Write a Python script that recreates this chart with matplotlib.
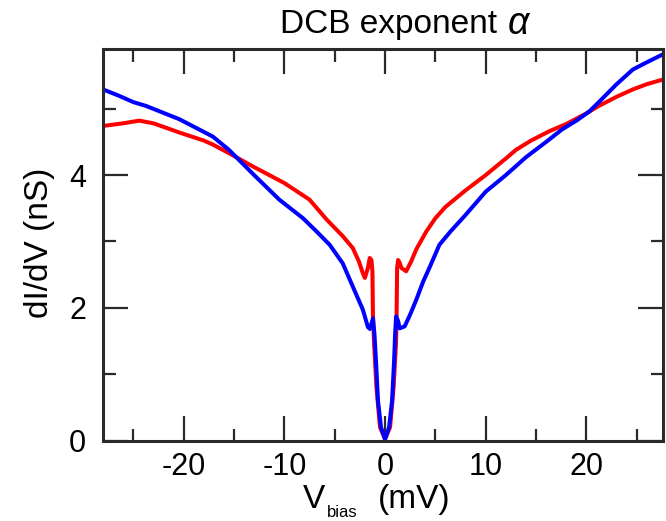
import matplotlib
matplotlib.use("Agg")
import matplotlib.pyplot as plt
from matplotlib.ticker import MultipleLocator

plt.rcParams['font.family'] = ['Liberation Sans', 'DejaVu Sans']
plt.rcParams['axes.unicode_minus'] = False

# bias voltage (mV) and differential conductance (nS)
red_v = [-28, -26, -24.4, -23, -20.4, -18, -17.1, -15.5, -13, -10, -7.5, -5.8,
         -4.2, -3.2, -2.6, -2.2, -2.0, -1.7, -1.52, -1.35, -1.25, -1.2, -1.1,
         -0.85, -0.5, 0, 0.5, 0.85, 1.1, 1.15, 1.2, 1.3, 1.45, 1.63, 2.1, 2.6,
         3.1, 4.1, 5, 6, 8, 10, 12, 13, 14.5, 16.3, 18, 20, 21.2, 23, 24.6, 26, 27.6]
red_g = [4.74, 4.78, 4.82, 4.78, 4.64, 4.52, 4.46, 4.33, 4.12, 3.88, 3.63, 3.33,
         3.08, 2.9, 2.7, 2.52, 2.45, 2.6, 2.75, 2.72, 2.55, 1.9, 1.5,
         0.8, 0.2, 0.02, 0.2, 0.8, 1.5, 1.9, 2.6, 2.72, 2.68, 2.6, 2.55, 2.7,
         2.88, 3.15, 3.35, 3.52, 3.77, 4.0, 4.25, 4.38, 4.52, 4.66, 4.77, 4.93, 5.04, 5.18, 5.29, 5.37, 5.44]

blue_v = [-28, -26.5, -25, -23.7, -20.4, -17.1, -15.5, -13, -10.5, -8.15, -6.8,
          -5.5, -4.2, -3.2, -2.2, -1.7, -1.5, -1.2, -1.05, -0.9, -0.7, -0.4, 0,
          0.4, 0.7, 0.9, 1.0, 1.1, 1.3, 1.45, 1.95, 2.5, 3.1, 3.8, 4.4, 5.4, 6.5,
          8, 10, 12, 14, 16, 17.6, 19, 20.3, 21.3, 23, 24.6, 26, 27.6]
blue_g = [5.29, 5.2, 5.1, 5.04, 4.84, 4.58, 4.38, 4.0, 3.63, 3.35, 3.15,
          2.95, 2.67, 2.32, 1.97, 1.71, 1.68, 1.84, 1.6, 1.2, 0.6, 0.2, 0.02,
          0.2, 0.6, 1.2, 1.6, 1.87, 1.8, 1.69, 1.72, 1.9, 2.12, 2.4, 2.6, 2.95, 3.15,
          3.4, 3.75, 4.0, 4.27, 4.5, 4.69, 4.82, 4.96, 5.11, 5.37, 5.59, 5.7, 5.82]

fig = plt.figure(figsize=(6.66, 5.21), dpi=100)
ax = fig.add_axes([0.1547, 0.1545, 0.8408, 0.7515])

ax.plot(red_v, red_g, color='#ff0000', lw=2.9, solid_joinstyle='round')
ax.plot(blue_v, blue_g, color='#0000ff', lw=2.9, solid_joinstyle='round')

ax.set_xlim(-28, 27.6)
ax.set_ylim(0, 5.9)
ax.xaxis.set_major_locator(MultipleLocator(10))
ax.xaxis.set_minor_locator(MultipleLocator(5))
ax.yaxis.set_major_locator(MultipleLocator(2))
ax.yaxis.set_minor_locator(MultipleLocator(1))

for s in ax.spines.values():
    s.set_linewidth(2.2)
    s.set_color('#2a2a2a')
ax.tick_params(which='both', direction='in', top=True, right=True,
               width=1.6, color='#2a2a2a', labelsize=22)
ax.tick_params(which='major', length=18)
ax.tick_params(which='minor', length=9)
ax.tick_params(axis='x', pad=8)
ax.tick_params(axis='y', pad=12)

# axis labels
fig.text(303 / 666, 13 / 521, 'V', fontsize=24, ha='left', va='baseline')
fig.text(327 / 666, 1 / 521, 'bias', fontsize=12, ha='left', va='bottom')
fig.text(378 / 666, 13 / 521, '(mV)', fontsize=24, ha='left', va='baseline')
fig.text(40 / 666, 0.534, 'dI/dV (nS)', fontsize=24, rotation=90,
         ha='center', va='center')

# title
fig.text(280 / 666, 1 - 33 / 521, 'DCB exponent', fontsize=24,
         ha='left', va='baseline')
fig.text(508 / 666, 1 - 34 / 521, 'α', fontsize=27, style='italic',
         ha='left', va='baseline')

fig.savefig('out.png', dpi=100)
